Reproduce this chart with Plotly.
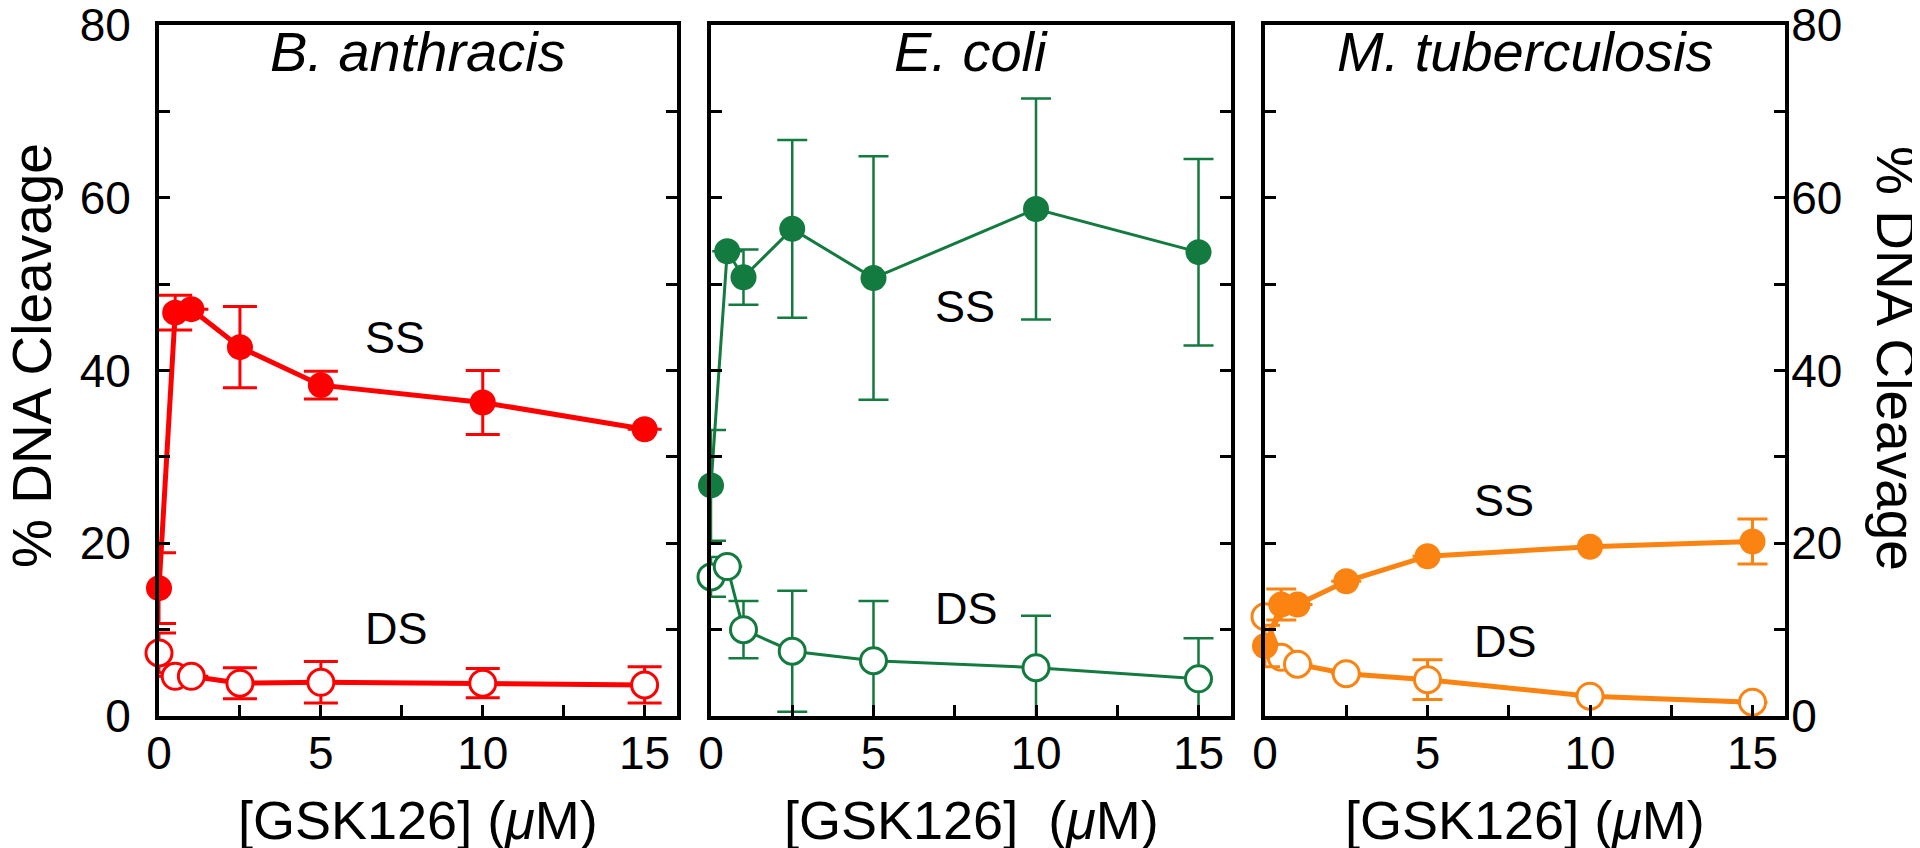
import plotly.graph_objects as go

# ---------------- data ----------------
conc = [0, 0.5, 1, 2.5, 5, 10, 15]

ba_ss = [14.8, 46.7, 47.1, 42.7, 38.3, 36.3, 33.2]
ba_ss_err = [4.1, 2.0, None, 4.7, 1.6, 3.7, None]
ba_ds = [7.3, 4.6, 4.6, 3.8, 3.9, 3.8, 3.6]
ba_ds_err = [2.3, None, None, 1.8, 2.4, 1.7, 2.1]

ec_ss = [26.7, 53.8, 50.8, 56.4, 50.7, 58.7, 53.7]
ec_ss_err = [6.4, None, 3.2, 10.3, 14.1, 12.8, 10.8]
ec_ds = [16.1, 17.3, 10.0, 7.5, 6.4, 5.6, 4.3]
ec_ds_err = [2.3, None, 3.3, 7.0, 6.9, 6.0, 4.7]

mt_ss = [8.1, 12.9, 12.9, 15.6, 18.5, 19.6, 20.2]
mt_ss_err = [2.4, 1.8, None, None, None, None, 2.6]
mt_ds = [11.5, 6.8, 6.0, 4.9, 4.2, 2.3, 1.6]
mt_ds_err = [None, None, None, None, 2.3, None, None]

panel_titles = ["B. anthracis", "E. coli", "M. tuberculosis"]
x_titles = ["[GSK126] (<i>μ</i>M)", "[GSK126]  (<i>μ</i>M)", "[GSK126] (<i>μ</i>M)"]
y_title = "% DNA Cleavage"
x_tickvals = [0, 2.5, 5, 7.5, 10, 12.5, 15]
x_ticktext = ["0", "", "5", "", "10", "", "15"]
y_tickvals = [0, 10, 20, 30, 40, 50, 60, 70, 80]
y_ticktext = ["0", "", "20", "", "40", "", "60", "", "80"]
label_ss = "SS"
label_ds = "DS"
# label anchor points (data coords) per panel: (x, y) for SS and DS
ss_label_pos = [(7.3, 43.8), (7.8, 47.4), (7.35, 24.9)]
ds_label_pos = [(7.35, 10.1), (7.85, 12.5), (7.4, 8.6)]

RED = "#ff0000"
GREEN = "#137b3f"
ORANGE = "#fb8311"
FONT = "Liberation Sans, Arial, Helvetica, sans-serif"

panels = [
    (ba_ss, ba_ss_err, ba_ds, ba_ds_err, RED, 5, 3, 17),
    (ec_ss, ec_ss_err, ec_ds, ec_ds_err, GREEN, 3, 2.5, 15),
    (mt_ss, mt_ss_err, mt_ds, mt_ds_err, ORANGE, 5, 3, 15),
]

fig = go.Figure()
for i, (ss, sse, ds, dse, col, lw, ew, cw) in enumerate(panels):
    xa = "x" if i == 0 else f"x{i+1}"
    ya = "y" if i == 0 else f"y{i+1}"
    fig.add_trace(go.Scatter(
        x=conc, y=ds, xaxis=xa, yaxis=ya, mode="lines+markers",
        line=dict(color=col, width=lw),
        marker=dict(size=26, color="white", line=dict(color=col, width=3)),
        error_y=dict(type="data", array=dse, visible=True, color=col,
                     thickness=ew, width=cw),
        cliponaxis=False, showlegend=False))
    fig.add_trace(go.Scatter(
        x=conc, y=ss, xaxis=xa, yaxis=ya, mode="lines+markers",
        line=dict(color=col, width=lw),
        marker=dict(size=26, color=col, line=dict(color=col, width=0)),
        error_y=dict(type="data", array=sse, visible=True, color=col,
                     thickness=ew, width=cw),
        cliponaxis=False, showlegend=False))

domains = [[0, 0.31857], [0.33948, 0.65929], [0.68020, 1.0]]
axis_common = dict(showline=True, linecolor="black", linewidth=4,
                   ticks="inside", ticklen=11, tickwidth=3, tickcolor="black",
                   showgrid=False, zeroline=False, ticklabeloverflow="allow",
                   automargin=False,
                   tickfont=dict(family=FONT, size=46, color="black"))
layout = dict(
    width=1920, height=848,
    margin=dict(l=151, r=143, t=17, b=140, autoexpand=False),
    paper_bgcolor="white", plot_bgcolor="white",
    font=dict(family=FONT, color="black"),
)
for i in range(3):
    sx = "" if i == 0 else str(i + 1)
    layout["xaxis" + sx] = dict(
        axis_common, domain=domains[i], range=[0, 16], anchor="y" + sx,
        mirror=True, tickvals=x_tickvals, ticktext=x_ticktext,
        ticklabelstandoff=-6)
    ydict = dict(axis_common, domain=[0, 1], range=[0, 80], anchor="x" + sx,
                 mirror="ticks", tickvals=y_tickvals, ticktext=y_ticktext,
                 ticklabelstandoff=15)
    if i == 1:
        ydict["showticklabels"] = False
    if i == 2:
        ydict["side"] = "right"
        ydict["ticklabelstandoff"] = -7
    layout["yaxis" + sx] = ydict

fig.update_layout(**layout)

def px_x(p):
    return (p - 151) / 1626.0

def px_y(p):
    return (708 - p) / 691.0

centers = [410, 963, 1517]
ann = []
for i in range(3):
    sx = "" if i == 0 else str(i + 1)
    ann.append(dict(text=f"<i>{panel_titles[i]}</i>", x=px_x(centers[i]), y=px_y(44),
                    xref="paper", yref="paper", showarrow=False,
                    xanchor="center", yanchor="middle",
                    font=dict(family=FONT, size=56, color="black")))
    ann.append(dict(text=x_titles[i], x=px_x(centers[i]), y=px_y(812),
                    xref="paper", yref="paper", showarrow=False,
                    xanchor="center", yanchor="middle",
                    font=dict(family=FONT, size=54, color="black")))
    ann.append(dict(text=label_ss, x=ss_label_pos[i][0], y=ss_label_pos[i][1],
                    xref="x" + sx, yref="y" + sx, showarrow=False,
                    xanchor="center", yanchor="middle",
                    font=dict(family=FONT, size=45, color="black")))
    ann.append(dict(text=label_ds, x=ds_label_pos[i][0], y=ds_label_pos[i][1],
                    xref="x" + sx, yref="y" + sx, showarrow=False,
                    xanchor="center", yanchor="middle",
                    font=dict(family=FONT, size=45, color="black")))
ann.append(dict(text=y_title, x=px_x(24), y=px_y(348), xref="paper", yref="paper",
                showarrow=False, textangle=-90, xanchor="center", yanchor="middle",
                font=dict(family=FONT, size=55, color="black")))
ann.append(dict(text=y_title, x=px_x(1888), y=px_y(350), xref="paper", yref="paper",
                showarrow=False, textangle=90, xanchor="center", yanchor="middle",
                font=dict(family=FONT, size=55, color="black")))
fig.update_layout(annotations=ann)

fig.write_html("out.html")
